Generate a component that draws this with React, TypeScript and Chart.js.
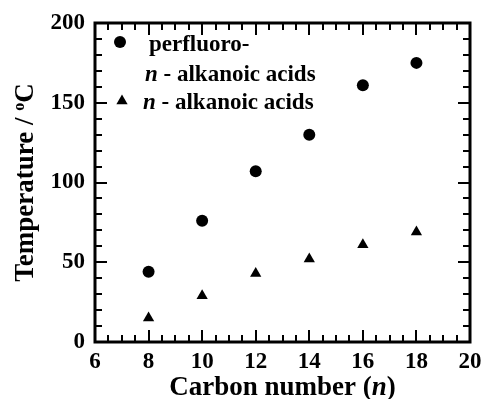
import React, { useEffect, useRef } from "react";
import { Chart, registerables } from "chart.js";

Chart.register(...registerables);

const carbonNumbers = [8, 10, 12, 14, 16, 18];
const perfluoroValues = [44, 76, 107, 130, 161, 175];
const alkanoicValues = [15, 29, 43, 52, 61, 69];
const xTickValues = [6, 8, 10, 12, 14, 16, 18, 20];
const yTickValues = [0, 50, 100, 150, 200];
const legendLine1 = "perfluoro-";
const legendItalic = "n";
const legendRest = " - alkanoic acids";
const xTitleParts = ["Carbon number (", "n", ")"];
const yTitleParts = ["Temperature / ", "o", "C"];

const FONT = "'Liberation Serif', 'Times New Roman', serif";

const framePlugin = {
  id: "frameTicks",
  afterDraw(chart: any) {
    const { ctx, chartArea, scales } = chart;
    const { left, right, top, bottom } = chartArea;
    const xs = scales.x;
    const ys = scales.y;
    ctx.save();
    ctx.strokeStyle = "#000";
    ctx.lineWidth = 2;
    ctx.beginPath();
    for (let v = 6; v <= 20.001; v += 0.5) {
      const px = Math.round(xs.getPixelForValue(v));
      const major = Math.abs(v - Math.round(v / 2) * 2) < 1e-6;
      const len = major ? 12 : 7;
      ctx.moveTo(px, bottom);
      ctx.lineTo(px, bottom - len);
      ctx.moveTo(px, top);
      ctx.lineTo(px, top + len);
    }
    for (let v = 0; v <= 200.001; v += 10) {
      const py = Math.round(ys.getPixelForValue(v));
      const major = v % 50 === 0;
      const len = major ? 12 : 7;
      ctx.moveTo(left, py);
      ctx.lineTo(left + len, py);
      ctx.moveTo(right, py);
      ctx.lineTo(right - len, py);
    }
    ctx.stroke();
    ctx.lineWidth = 3;
    ctx.strokeRect(left, top, right - left, bottom - top);

    ctx.fillStyle = "#000";
    ctx.textBaseline = "alphabetic";
    ctx.textAlign = "left";

    // legend markers
    ctx.beginPath();
    ctx.arc(120, 42, 6, 0, Math.PI * 2);
    ctx.fill();
    const r = 6.5;
    const tx = 122, ty = 101;
    ctx.beginPath();
    ctx.moveTo(tx, ty - r);
    ctx.lineTo(tx + Math.sin((2 * Math.PI) / 3) * r, ty - Math.cos((2 * Math.PI) / 3) * r);
    ctx.lineTo(tx + Math.sin((4 * Math.PI) / 3) * r, ty - Math.cos((4 * Math.PI) / 3) * r);
    ctx.closePath();
    ctx.fill();

    const bold = (s: number) => `bold ${s}px ${FONT}`;
    const ital = (s: number) => `italic bold ${s}px ${FONT}`;

    ctx.font = bold(23);
    ctx.fillText(legendLine1, 149, 51);
    const drawNLine = (x: number, y: number) => {
      ctx.font = ital(23);
      ctx.fillText(legendItalic, x, y);
      const w = ctx.measureText(legendItalic).width;
      ctx.font = bold(23);
      ctx.fillText(legendRest, x + w, y);
    };
    drawNLine(145, 81);
    drawNLine(143, 109);

    // x title
    const ts = 27;
    const fonts = [bold(ts), ital(ts), bold(ts)];
    const widths = xTitleParts.map((t, i) => {
      ctx.font = fonts[i];
      return ctx.measureText(t).width;
    });
    const total = widths.reduce((a, b) => a + b, 0);
    let cx = (left + right) / 2 - total / 2;
    xTitleParts.forEach((t, i) => {
      ctx.font = fonts[i];
      ctx.fillText(t, cx, 395);
      cx += widths[i];
    });

    // y title (rotated)
    ctx.save();
    ctx.translate(33, (top + bottom) / 2);
    ctx.rotate(-Math.PI / 2);
    const yfonts = [bold(ts), bold(16), bold(ts)];
    const ywidths = yTitleParts.map((t, i) => {
      ctx.font = yfonts[i];
      return ctx.measureText(t).width;
    });
    const ytotal = ywidths.reduce((a, b) => a + b, 0);
    let cy = -ytotal / 2;
    yTitleParts.forEach((t, i) => {
      ctx.font = yfonts[i];
      ctx.fillText(t, cy, i === 1 ? -9 : 0);
      cy += ywidths[i];
    });
    ctx.restore();

    ctx.restore();
  },
};

export default function App() {
  const ref = useRef<HTMLCanvasElement>(null);
  useEffect(() => {
    const chart = new Chart(ref.current as HTMLCanvasElement, {
      type: "scatter",
      data: {
        datasets: [
          {
            label: "perfluoro-n-alkanoic acids",
            data: carbonNumbers.map((x, i) => ({ x, y: perfluoroValues[i] })),
            pointStyle: "circle",
            pointRadius: 6,
            backgroundColor: "#000",
            borderColor: "#000",
            borderWidth: 0,
          },
          {
            label: "n-alkanoic acids",
            data: carbonNumbers.map((x, i) => ({ x, y: alkanoicValues[i] })),
            pointStyle: "triangle",
            pointRadius: 6.5,
            backgroundColor: "#000",
            borderColor: "#000",
            borderWidth: 0,
          },
        ],
      },
      options: {
        responsive: false,
        animation: false,
        layout: { padding: { left: 0, right: 11, top: 23, bottom: 0 } },
        plugins: { legend: { display: false }, tooltip: { enabled: false } },
        scales: {
          x: {
            type: "linear",
            min: 6,
            max: 20,
            afterBuildTicks: (s: any) => {
              s.ticks = xTickValues.map((v) => ({ value: v }));
            },
            afterFit: (s: any) => {
              s.height = 57;
              s.paddingRight = 0;
              s.paddingLeft = 0;
            },
            grid: { display: false, drawTicks: false },
            border: { display: false },
            ticks: {
              color: "#000",
              padding: 6,
              maxRotation: 0,
              font: { family: FONT, size: 23, weight: "bold" },
            },
            title: { display: false },
          },
          y: {
            type: "linear",
            min: 0,
            max: 200,
            afterBuildTicks: (s: any) => {
              s.ticks = yTickValues.map((v) => ({ value: v }));
            },
            afterFit: (s: any) => {
              s.width = 95;
              s.paddingTop = 0;
              s.paddingBottom = 0;
            },
            grid: { display: false, drawTicks: false },
            border: { display: false },
            ticks: {
              color: "#000",
              padding: 10,
              font: { family: FONT, size: 23, weight: "bold" },
            },
            title: { display: false },
          },
        },
      },
      plugins: [framePlugin],
    } as any);
    return () => chart.destroy();
  }, []);
  return (
    <div style={{ position: "fixed", left: 0, top: 0, width: 481, height: 399, background: "#fff" }}>
      <canvas ref={ref} width={481} height={399} style={{ width: 481, height: 399 }} />
    </div>
  );
}
